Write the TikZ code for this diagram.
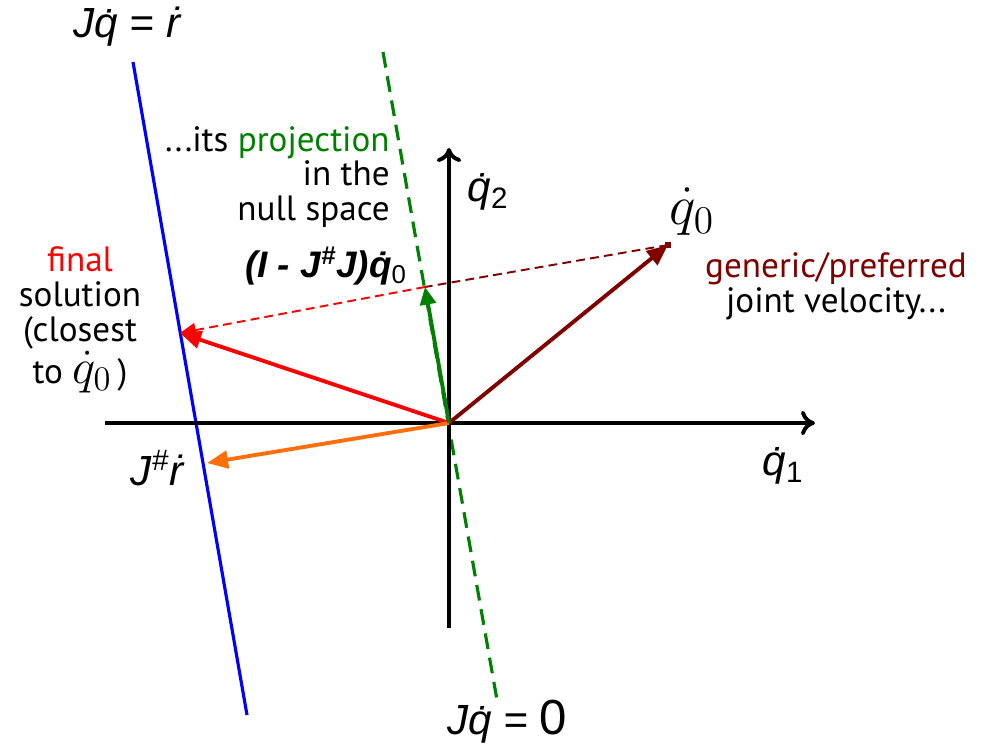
\RequirePackage{fix-cm}
\documentclass[tikz,border=0pt]{standalone}
\usepackage{fontspec}
\usepackage{amsmath}
\usepackage{tikz,xcolor}
\usetikzlibrary{arrows.meta,calc}
\setmainfont{PT Sans}
\newfontfamily\arialfont{Liberation Sans}

\definecolor{darkred}{RGB}{128,0,0}
\definecolor{darkgreen}{RGB}{0,128,0}
\definecolor{vorange}{RGB}{255,110,10}

\newcommand{\qzero}[1]{\scalebox{#1}{$\dot{q}_0$}}

\tikzset{
  axis/.style={line width=2.2pt, -{To[length=8pt,width=14pt,line width=2.2pt]}},
  vec/.style={line width=2.2pt, -{Triangle[length=12pt,width=10pt]}},
  txt/.style={font=\fontsize{20}{19.8}\selectfont, inner sep=0pt},
  mth/.style={font=\arialfont\itshape\fontsize{24}{26}\selectfont, inner sep=0pt}
}

\begin{document}
\begin{tikzpicture}[x=0.02cm, y=-0.02cm]
\useasboundingbox (0,0) rectangle (985,752);

% 定义坐标
\coordinate (o) at (449,423);
\coordinate (xl) at (105,423);
\coordinate (xr) at (815,423);
\coordinate (yb) at (449,628);
\coordinate (yt) at (449,148);
\coordinate (bt) at (133,62);
\coordinate (bb) at (247,715);
\coordinate (gt) at (383,52);
\coordinate (gb) at (497,700);
\coordinate (q0) at (668,245);
\coordinate (pr) at (425,287);
\coordinate (fs) at (180,333);
\coordinate (js) at (207,463);

% 直线
\draw[blue, line width=1.8pt] (bt) -- (bb);
\draw[darkgreen, line width=1.8pt, dash pattern=on 9pt off 5pt] (gt) -- (gb);

% 坐标轴
\draw[axis] (xl) -- (xr);
\draw[axis] (yb) -- (yt);

% 虚线
\draw[darkred, line width=1.1pt, dash pattern=on 5pt off 3pt] (q0) -- (pr);
\draw[red, line width=1.1pt, dash pattern=on 5pt off 3pt, -{Triangle[length=9pt,width=8pt]}] (pr) -- (fs);
\fill[darkred] ($(q0)+(-3,-3)$) rectangle ($(q0)+(3,3)$);

% 向量
\draw[vec, darkred] (o) -- (q0);
\draw[vec, red] (o) -- (fs);
\draw[vec, vorange] (o) -- (js);
\draw[vec, darkgreen, -{Triangle[length=10pt,width=9pt]}] (o) -- (pr);

% 标签
\node[mth] (l1) at (127,27) {J\.{q} = \.{r}};
\node[mth] (l2) at (507,722) {J\.{q} = {\upshape\fontsize{28}{28}\selectfont 0}};
\node[mth] (l3) at (157,468) {J\textsuperscript{\#}\.{r}};
\node[mth] (l4) at (488,192) {\.{q}\textsubscript{\upshape 2}};
\node[mth] (l5) at (783,466) {\.{q}\textsubscript{\upshape 1}};
\node[mth, font=\arialfont\bfseries\itshape\fontsize{21}{24}\selectfont] (l6) at (326,266) {(I - J\textsuperscript{\#}J)\.{q}\textsubscript{\upshape\mdseries 0}};
\node[inner sep=0pt, font=\fontsize{22}{24}\selectfont] (l7) at (692,212) {\qzero{1.45}};
\node[txt, anchor=east, align=right] (l8) at (390,177) {...its \textcolor{darkgreen}{projection}\\in the\\null space};
\node[txt, align=center] (l9) at (80,320) {\textcolor{red}{final}\\solution\\(closest\\to \qzero{1.4}\,)};
\node[txt, align=center] (l10) at (836,286) {\textcolor{darkred}{generic/preferred}\\joint velocity...};

\end{tikzpicture}
\end{document}
